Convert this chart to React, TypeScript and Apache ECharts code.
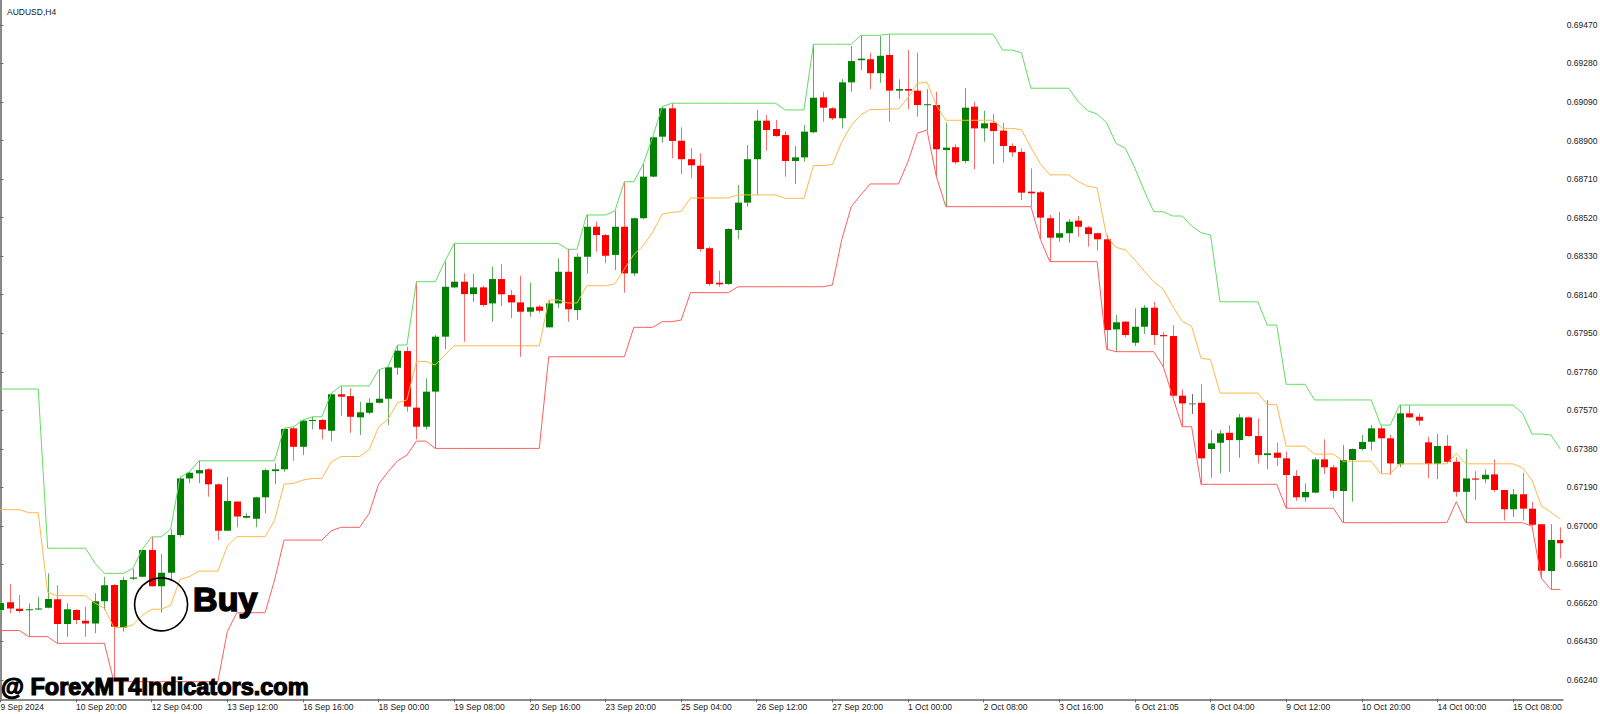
import React, { useEffect, useRef } from "react";
import * as echarts from "echarts";

// ---- Data (AUDUSD H4), bar index 0..165 ----
const opens = [
  0.66585, 0.66623, 0.66591, 0.66584, 0.66589, 0.66596, 0.66638, 0.66516, 0.66585, 0.66532,
  0.66519, 0.66629, 0.66708, 0.66498, 0.66739, 0.66749, 0.66881, 0.66703, 0.66769, 0.66955,
  0.67234, 0.67259, 0.67279, 0.67205, 0.66976, 0.6712, 0.6704, 0.67035, 0.67141, 0.6727,
  0.67279, 0.67481, 0.6739, 0.67519, 0.67522, 0.67469, 0.67649, 0.6764, 0.67535, 0.67558,
  0.67607, 0.67627, 0.6778, 0.67862, 0.67583, 0.67489, 0.67662, 0.67933, 0.68176, 0.68204,
  0.68143, 0.68176, 0.68097, 0.68217, 0.68138, 0.68102, 0.68056, 0.68081, 0.67979, 0.68097,
  0.68253, 0.68064, 0.68327, 0.68475, 0.68434, 0.68336, 0.68475, 0.68245, 0.68517, 0.68722,
  0.68919, 0.69059, 0.68899, 0.68808, 0.68776, 0.68369, 0.68199, 0.68193, 0.68459, 0.68594,
  0.68808, 0.68998, 0.68957, 0.68927, 0.68799, 0.68817, 0.68941, 0.69113, 0.69059, 0.6901,
  0.69187, 0.69296, 0.69301, 0.69232, 0.69322, 0.69146, 0.69154, 0.69146, 0.69074, 0.69075,
  0.68853, 0.68867, 0.68799, 0.69067, 0.6896, 0.68988, 0.68949, 0.68873, 0.68844, 0.68648,
  0.68645, 0.68517, 0.68421, 0.68443, 0.68505, 0.68472, 0.68443, 0.68413, 0.67969, 0.68007,
  0.67903, 0.67982, 0.68076, 0.67941, 0.67936, 0.67642, 0.67604, 0.67607, 0.67379, 0.6741,
  0.67459, 0.67423, 0.67535, 0.67443, 0.67349, 0.67361, 0.67333, 0.67246, 0.67141, 0.67164,
  0.67328, 0.67289, 0.67172, 0.67325, 0.67379, 0.67415, 0.67481, 0.67432, 0.67304, 0.67555,
  0.67538, 0.67412, 0.67305, 0.67395, 0.67316, 0.67168, 0.67234, 0.6723, 0.67254, 0.67177,
  0.67082, 0.67156, 0.67085, 0.67008, 0.66777, 0.6693,
];
const closes = [
  0.66618, 0.66593, 0.6658, 0.66589, 0.66593, 0.6664, 0.66516, 0.66589, 0.66536, 0.66519,
  0.66628, 0.66707, 0.66503, 0.66733, 0.66746, 0.66881, 0.66703, 0.66769, 0.66955, 0.67234,
  0.67262, 0.67275, 0.67205, 0.66976, 0.67123, 0.67046, 0.67049, 0.67141, 0.67275, 0.67279,
  0.67478, 0.6739, 0.67519, 0.67522, 0.67476, 0.67649, 0.67637, 0.67538, 0.6756, 0.67607,
  0.67627, 0.67782, 0.67864, 0.67588, 0.67489, 0.67662, 0.67933, 0.68179, 0.68204, 0.68143,
  0.68176, 0.68089, 0.68217, 0.68142, 0.68102, 0.68056, 0.68078, 0.68061, 0.68097, 0.68253,
  0.68068, 0.68327, 0.68475, 0.68434, 0.68332, 0.68475, 0.68245, 0.68517, 0.68722, 0.68916,
  0.69059, 0.68898, 0.68808, 0.68778, 0.68365, 0.68193, 0.68191, 0.68464, 0.68594, 0.68808,
  0.68998, 0.68952, 0.68922, 0.68799, 0.68817, 0.68944, 0.69111, 0.69062, 0.6901, 0.69187,
  0.69292, 0.69304, 0.69232, 0.69318, 0.69146, 0.69154, 0.69146, 0.69075, 0.69079, 0.68857,
  0.68865, 0.68793, 0.69062, 0.6896, 0.68985, 0.68947, 0.68873, 0.68842, 0.68643, 0.6864,
  0.6852, 0.68421, 0.68443, 0.685, 0.68475, 0.68439, 0.68413, 0.67966, 0.68004, 0.67941,
  0.67982, 0.68076, 0.67941, 0.67935, 0.67642, 0.67604, 0.67604, 0.67333, 0.67407, 0.67456,
  0.67423, 0.67535, 0.67443, 0.67349, 0.67358, 0.67336, 0.67251, 0.67141, 0.67167, 0.67328,
  0.67289, 0.67173, 0.67325, 0.67379, 0.67414, 0.67481, 0.67432, 0.67308, 0.67555, 0.67535,
  0.67519, 0.67305, 0.67394, 0.67316, 0.67168, 0.67234, 0.67228, 0.67252, 0.67177, 0.67082,
  0.67156, 0.67085, 0.67006, 0.66779, 0.6693, 0.66914,
];
const highs = [
  0.66634, 0.66713, 0.66659, 0.66618, 0.66651, 0.66766, 0.66708, 0.66618, 0.6659, 0.66601,
  0.66668, 0.66749, 0.66713, 0.66749, 0.6679, 0.66884, 0.66946, 0.66861, 0.66983, 0.67239,
  0.67267, 0.67321, 0.67285, 0.6721, 0.67242, 0.6712, 0.67062, 0.67144, 0.67282, 0.67308,
  0.67481, 0.67488, 0.67522, 0.67538, 0.67527, 0.67654, 0.6769, 0.67678, 0.67612, 0.67629,
  0.67769, 0.67785, 0.67892, 0.67884, 0.68204, 0.67728, 0.67941, 0.68303, 0.68393, 0.68245,
  0.68242, 0.68183, 0.68278, 0.68291, 0.68163, 0.68234, 0.68199, 0.68089, 0.6811, 0.68319,
  0.68364, 0.68344, 0.68533, 0.685, 0.68439, 0.68554, 0.68697, 0.6852, 0.68784, 0.68919,
  0.69067, 0.69084, 0.68965, 0.68862, 0.68837, 0.68377, 0.68258, 0.68467, 0.68681, 0.68878,
  0.69051, 0.69026, 0.69001, 0.68944, 0.68873, 0.68977, 0.69375, 0.69141, 0.69065, 0.69203,
  0.69366, 0.69419, 0.69333, 0.69415, 0.69425, 0.69202, 0.69346, 0.69333, 0.69153, 0.69141,
  0.68988, 0.68881, 0.69158, 0.69092, 0.69047, 0.69031, 0.68988, 0.68886, 0.68862, 0.68763,
  0.68651, 0.68533, 0.68549, 0.68512, 0.68528, 0.68479, 0.68446, 0.68434, 0.6804, 0.6801,
  0.68073, 0.68089, 0.68105, 0.67957, 0.6799, 0.67673, 0.6765, 0.67698, 0.67473, 0.67473,
  0.67497, 0.67552, 0.67538, 0.6753, 0.67621, 0.6741, 0.67366, 0.67275, 0.6721, 0.67338,
  0.67427, 0.673, 0.67399, 0.67382, 0.67448, 0.67497, 0.67497, 0.67448, 0.67596, 0.67596,
  0.67555, 0.6744, 0.67453, 0.67448, 0.67338, 0.67379, 0.6727, 0.67279, 0.67328, 0.67177,
  0.67182, 0.67262, 0.67118, 0.67009, 0.67009, 0.66993,
];
const lows = [
  0.6657, 0.66569, 0.66572, 0.66454, 0.66585, 0.66593, 0.66421, 0.66454, 0.66516, 0.66454,
  0.66471, 0.66585, 0.66232, 0.66479, 0.66733, 0.66746, 0.667, 0.66572, 0.66733, 0.66946,
  0.6721, 0.6721, 0.67144, 0.6693, 0.66976, 0.66993, 0.67037, 0.66993, 0.67062, 0.67205,
  0.67267, 0.67321, 0.67349, 0.67476, 0.67427, 0.67418, 0.67542, 0.67459, 0.67448, 0.6755,
  0.67604, 0.67497, 0.67744, 0.67563, 0.67427, 0.67476, 0.67382, 0.67871, 0.68171, 0.67908,
  0.68105, 0.68081, 0.68007, 0.68084, 0.68024, 0.67834, 0.68031, 0.68051, 0.67979, 0.68073,
  0.68007, 0.68015, 0.68245, 0.68352, 0.68295, 0.68262, 0.6815, 0.68232, 0.68512, 0.68719,
  0.68889, 0.68812, 0.68735, 0.68714, 0.68352, 0.68184, 0.68179, 0.68188, 0.68413, 0.68574,
  0.68632, 0.6885, 0.68919, 0.68722, 0.68686, 0.68796, 0.68936, 0.68993, 0.69001, 0.6896,
  0.69141, 0.69248, 0.69153, 0.69185, 0.68993, 0.69105, 0.69054, 0.69018, 0.68952, 0.68722,
  0.68574, 0.68783, 0.68788, 0.68758, 0.68894, 0.68784, 0.68791, 0.6882, 0.68607, 0.68574,
  0.68413, 0.68303, 0.68401, 0.68396, 0.68426, 0.68377, 0.68357, 0.67871, 0.67859, 0.6793,
  0.67887, 0.67946, 0.67892, 0.67785, 0.67637, 0.67489, 0.67552, 0.67205, 0.67237, 0.67259,
  0.67267, 0.67336, 0.6744, 0.67308, 0.67279, 0.67295, 0.67087, 0.67124, 0.67119, 0.67161,
  0.67256, 0.67136, 0.67016, 0.67119, 0.67371, 0.67371, 0.67259, 0.67251, 0.6729, 0.67532,
  0.67497, 0.67235, 0.6723, 0.67308, 0.67144, 0.67016, 0.67128, 0.6721, 0.67168, 0.67027,
  0.67044, 0.67027, 0.66998, 0.66741, 0.66687, 0.6684,
];

// ---- Channel indicator lines (upper = green, middle = orange, lower = red) ----
const upperBand = [
  0.67675, 0.67675, 0.67675, 0.67675, 0.67675, 0.6689, 0.6689, 0.6689, 0.6689, 0.6689,
  0.66816, 0.66766, 0.66766, 0.66766, 0.6679, 0.66884, 0.66946, 0.66946, 0.66983, 0.67239,
  0.67267, 0.67321, 0.67321, 0.67321, 0.67321, 0.67321, 0.67321, 0.67321, 0.67321, 0.67321,
  0.67481, 0.67488, 0.67522, 0.67538, 0.67538, 0.67654, 0.6769, 0.6769, 0.6769, 0.6769,
  0.67769, 0.67785, 0.67892, 0.67892, 0.68204, 0.68204, 0.68204, 0.68303, 0.68393, 0.68393,
  0.68393, 0.68393, 0.68393, 0.68393, 0.68393, 0.68393, 0.68393, 0.68393, 0.68393, 0.68393,
  0.68364, 0.68364, 0.68533, 0.68533, 0.68533, 0.68554, 0.68697, 0.68697, 0.68784, 0.68919,
  0.69067, 0.69084, 0.69084, 0.69084, 0.69084, 0.69084, 0.69084, 0.69084, 0.69084, 0.69084,
  0.69084, 0.69084, 0.69084, 0.69051, 0.69051, 0.69051, 0.69375, 0.69375, 0.69375, 0.69375,
  0.69375, 0.69419, 0.69419, 0.69419, 0.69425, 0.69425, 0.69425, 0.69425, 0.69425, 0.69425,
  0.69425, 0.69425, 0.69425, 0.69425, 0.69425, 0.69425, 0.69346, 0.69346, 0.69333, 0.69158,
  0.69158, 0.69158, 0.69158, 0.69158, 0.69092, 0.69047, 0.69031, 0.68988, 0.68886, 0.68862,
  0.68763, 0.68651, 0.68549, 0.68549, 0.68528, 0.68528, 0.68479, 0.68446, 0.68434, 0.68105,
  0.68105, 0.68105, 0.68105, 0.68105, 0.6799, 0.6799, 0.67698, 0.67698, 0.67698, 0.67621,
  0.67621, 0.67621, 0.67621, 0.67621, 0.67621, 0.67621, 0.67497, 0.67497, 0.67596, 0.67596,
  0.67596, 0.67596, 0.67596, 0.67596, 0.67596, 0.67596, 0.67596, 0.67596, 0.67596, 0.67596,
  0.67596, 0.67555, 0.67453, 0.67453, 0.67448, 0.67379,
];
const middleBand = [
  0.6708, 0.6708, 0.6708, 0.67065, 0.67065, 0.66672, 0.66656, 0.66656, 0.66656, 0.66656,
  0.66619, 0.66594, 0.66499, 0.66499, 0.66511, 0.66558, 0.66589, 0.66589, 0.66608, 0.66736,
  0.6675, 0.66777, 0.66777, 0.66777, 0.669, 0.66947, 0.66947, 0.66947, 0.66947, 0.67027,
  0.67206, 0.67209, 0.67226, 0.67234, 0.67234, 0.67315, 0.67342, 0.67342, 0.67342, 0.67376,
  0.67487, 0.67526, 0.67607, 0.67621, 0.67811, 0.67811, 0.67793, 0.67843, 0.67888, 0.67888,
  0.67888, 0.67888, 0.67888, 0.67888, 0.67888, 0.67888, 0.67888, 0.67888, 0.68114, 0.68114,
  0.68099, 0.68099, 0.68184, 0.68184, 0.68184, 0.68194, 0.68266, 0.68338, 0.68382, 0.68449,
  0.68537, 0.68546, 0.6855, 0.68617, 0.68617, 0.68617, 0.68617, 0.68617, 0.68632, 0.68632,
  0.68632, 0.68632, 0.68632, 0.68615, 0.68615, 0.68615, 0.68777, 0.68777, 0.68782, 0.68894,
  0.68975, 0.69026, 0.69053, 0.69053, 0.69056, 0.69056, 0.69111, 0.69181, 0.69189, 0.69074,
  0.69, 0.69, 0.69, 0.69, 0.69, 0.69, 0.6896, 0.6896, 0.68954, 0.68866,
  0.68786, 0.68731, 0.68731, 0.68731, 0.68698, 0.68675, 0.68667, 0.6843, 0.68373, 0.68361,
  0.68311, 0.68255, 0.68204, 0.68167, 0.68083, 0.68009, 0.67984, 0.67826, 0.6782, 0.67655,
  0.67655, 0.67655, 0.67655, 0.67655, 0.67598, 0.67598, 0.67393, 0.67393, 0.67393, 0.67354,
  0.67354, 0.67354, 0.67319, 0.67319, 0.67319, 0.67319, 0.67257, 0.67257, 0.67306, 0.67306,
  0.67306, 0.67306, 0.67306, 0.67306, 0.67358, 0.67306, 0.67306, 0.67306, 0.67306, 0.67306,
  0.67306, 0.67286, 0.67226, 0.67097, 0.67068, 0.67033,
];
const lowerBand = [
  0.66484, 0.66484, 0.66484, 0.66454, 0.66454, 0.66454, 0.66421, 0.66421, 0.66421, 0.66421,
  0.66421, 0.66421, 0.66232, 0.66232, 0.66232, 0.66232, 0.66232, 0.66232, 0.66232, 0.66232,
  0.66232, 0.66232, 0.66232, 0.66232, 0.66479, 0.66572, 0.66572, 0.66572, 0.66572, 0.66733,
  0.6693, 0.6693, 0.6693, 0.6693, 0.6693, 0.66976, 0.66993, 0.66993, 0.66993, 0.67062,
  0.67205, 0.67267, 0.67321, 0.67349, 0.67418, 0.67418, 0.67382, 0.67382, 0.67382, 0.67382,
  0.67382, 0.67382, 0.67382, 0.67382, 0.67382, 0.67382, 0.67382, 0.67382, 0.67834, 0.67834,
  0.67834, 0.67834, 0.67834, 0.67834, 0.67834, 0.67834, 0.67834, 0.67979, 0.67979, 0.67979,
  0.68007, 0.68007, 0.68015, 0.6815, 0.6815, 0.6815, 0.6815, 0.6815, 0.68179, 0.68179,
  0.68179, 0.68179, 0.68179, 0.68179, 0.68179, 0.68179, 0.68179, 0.68179, 0.68188, 0.68413,
  0.68574, 0.68632, 0.68686, 0.68686, 0.68686, 0.68686, 0.68796, 0.68936, 0.68952, 0.68722,
  0.68574, 0.68574, 0.68574, 0.68574, 0.68574, 0.68574, 0.68574, 0.68574, 0.68574, 0.68574,
  0.68413, 0.68303, 0.68303, 0.68303, 0.68303, 0.68303, 0.68303, 0.67871, 0.67859, 0.67859,
  0.67859, 0.67859, 0.67859, 0.67785, 0.67637, 0.67489, 0.67489, 0.67205, 0.67205, 0.67205,
  0.67205, 0.67205, 0.67205, 0.67205, 0.67205, 0.67205, 0.67087, 0.67087, 0.67087, 0.67087,
  0.67087, 0.67087, 0.67016, 0.67016, 0.67016, 0.67016, 0.67016, 0.67016, 0.67016, 0.67016,
  0.67016, 0.67016, 0.67016, 0.67016, 0.67119, 0.67016, 0.67016, 0.67016, 0.67016, 0.67016,
  0.67016, 0.67016, 0.66998, 0.66741, 0.66687, 0.66687,
];

// ---- Axis ticks / labels ----
const xTickBars = [0, 8, 16, 24, 32, 40, 48, 56, 64, 72, 80, 88, 96, 104, 112, 120, 128, 136, 144, 152, 160];
const xTickLabels = [
  "9 Sep 2024", "10 Sep 20:00", "12 Sep 04:00", "13 Sep 12:00", "16 Sep 16:00", "18 Sep 00:00",
  "19 Sep 08:00", "20 Sep 16:00", "23 Sep 20:00", "25 Sep 04:00", "26 Sep 12:00", "27 Sep 20:00",
  "1 Oct 00:00", "2 Oct 08:00", "3 Oct 16:00", "6 Oct 21:05", "8 Oct 04:00", "9 Oct 12:00",
  "10 Oct 20:00", "14 Oct 00:00", "15 Oct 08:00",
];
const yTickValues = [
  0.6624, 0.6643, 0.6662, 0.6681, 0.67, 0.6719, 0.6738, 0.6757, 0.6776,
  0.6795, 0.6814, 0.6833, 0.6852, 0.6871, 0.689, 0.6909, 0.6928, 0.6947,
];

const buySignal = { bar: 17, price: 0.66613, label: "Buy" };
const chartTitle = "AUDUSD,H4";
const watermarkText = "@ ForexMT4Indicators.com";

const UP = "#008000";
const DOWN = "#ff0000";
const UP_WICK = "#5fae5f";
const DOWN_WICK = "#ff6a6a";
const DOJI = "#6a6a6a";
const FONT = '"Liberation Sans", Arial, sans-serif';

export default function App() {
  const ref = useRef<HTMLDivElement>(null);

  useEffect(() => {
    document.body.style.margin = "0";
    const chart = echarts.init(ref.current as HTMLDivElement, null, { renderer: "svg" });

    const candleData = opens.map((o, i) => [i, o, closes[i], lows[i], highs[i]]);

    const option: any = {
      animation: false,
      backgroundColor: "#ffffff",
      title: {
        text: chartTitle,
        left: 2,
        top: 2,
        textStyle: { fontSize: 8.5, fontWeight: "normal", color: "#1a1a1a", fontFamily: FONT },
      },
      grid: {
        left: 0,
        top: 0,
        right: 37.3,
        bottom: 14.7,
        containLabel: false,
        outerBoundsMode: "none",
      },
      xAxis: {
        type: "value",
        min: -0.042,
        max: 165.25,
        axisLine: { show: true, lineStyle: { color: "#8a8a8a", width: 2 } },
        axisTick: { show: true, customValues: xTickBars, length: 3, lineStyle: { color: "#666" } },
        axisLabel: {
          show: true,
          customValues: xTickBars,
          align: "left",
          margin: 3,
          fontSize: 8.5,
          color: "#1a1a1a",
          fontFamily: FONT,
          formatter: (v: number) => {
            const k = xTickBars.indexOf(Math.round(v));
            return k >= 0 ? xTickLabels[k] : "";
          },
        },
        splitLine: { show: false },
      },
      yAxis: {
        type: "value",
        position: "right",
        min: 0.66145,
        max: 0.69593,
        axisLine: { show: true, lineStyle: { color: "#8a8a8a", width: 2 } },
        axisTick: { show: true, customValues: yTickValues, length: 3, lineStyle: { color: "#666" } },
        axisLabel: {
          show: true,
          customValues: yTickValues,
          margin: 4,
          fontSize: 8.5,
          color: "#1a1a1a",
          fontFamily: FONT,
          formatter: (v: number) => v.toFixed(5),
        },
        splitLine: { show: false },
      },
      series: [
        {
          type: "custom",
          name: "AUDUSD",
          clip: true,
          encode: { x: 0, y: [1, 2, 3, 4] },
          data: candleData,
          z: 2,
          renderItem: (params: any, api: any) => {
            const i = api.value(0);
            const o = api.value(1);
            const c = api.value(2);
            const l = api.value(3);
            const h = api.value(4);
            const pO = api.coord([i, o]);
            const pC = api.coord([i, c]);
            const pH = api.coord([i, h]);
            const pL = api.coord([i, l]);
            const up = c > o;
            const doji = c === o;
            const body = doji ? DOJI : up ? UP : DOWN;
            const wick = doji ? DOJI : up ? UP_WICK : DOWN_WICK;
            const bw = 7;
            const cx = Math.round(pO[0]);
            const top = Math.min(pO[1], pC[1]);
            const hgt = Math.max(1, Math.abs(pO[1] - pC[1]));
            return {
              type: "group",
              children: [
                {
                  type: "line",
                  shape: { x1: cx + 0.5, y1: pH[1], x2: cx + 0.5, y2: pL[1] },
                  style: { stroke: wick, lineWidth: 1 },
                },
                {
                  type: "rect",
                  shape: { x: cx - 3, y: top, width: bw, height: hgt },
                  style: { fill: body },
                },
              ],
            };
          },
        },
        {
          type: "line",
          name: "Upper",
          data: upperBand.map((v, i) => [i, v]),
          symbol: "none",
          lineStyle: { color: "#62dc62", width: 1 },
          z: 3,
        },
        {
          type: "line",
          name: "Middle",
          data: middleBand.map((v, i) => [i, v]),
          symbol: "none",
          lineStyle: { color: "#ffb84a", width: 1 },
          z: 3,
        },
        {
          type: "line",
          name: "Lower",
          data: lowerBand.map((v, i) => [i, v]),
          symbol: "none",
          lineStyle: { color: "#ff5e5e", width: 1 },
          z: 3,
        },
      ],
    };

    chart.setOption(option);

    const p = chart.convertToPixel({ gridIndex: 0 }, [buySignal.bar, buySignal.price]) as number[];
    const cx = p[0];
    const cy = p[1];
    chart.setOption({
      graphic: [
        {
          type: "circle",
          z: 100,
          shape: { cx: cx, cy: cy, r: 26.5 },
          style: { fill: "none", stroke: "#000", lineWidth: 1.6 },
        },
        {
          type: "text",
          z: 100,
          x: cx + 32,
          y: cy - 5,
          style: {
            text: buySignal.label,
            fontSize: 34,
            fontWeight: "bold",
            fontFamily: FONT,
            fill: "#000",
            stroke: "#000",
            lineWidth: 1.6,
            align: "left",
            verticalAlign: "middle",
          },
        },
        {
          type: "text",
          z: 100,
          x: 1,
          y: 687,
          style: {
            text: watermarkText,
            fontSize: 23.5,
            fontWeight: "bold",
            fontFamily: FONT,
            fill: "#000",
            stroke: "#000",
            lineWidth: 1.2,
            align: "left",
            verticalAlign: "middle",
          },
        },
      ],
    });

    return () => chart.dispose();
  }, []);

  return <div ref={ref} style={{ width: 1600, height: 714 }} />;
}
